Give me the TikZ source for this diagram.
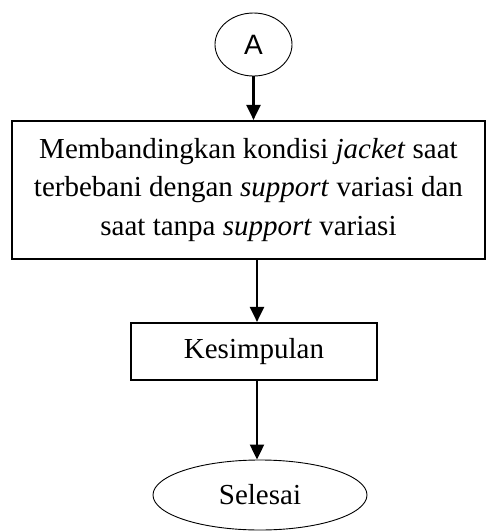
\documentclass[tikz,border=0pt]{standalone}
\usepackage{fontspec}
\setmainfont{Liberation Serif}
\newfontfamily\arialf{Liberation Sans}
\usetikzlibrary{arrows.meta,shapes.geometric}
\begin{document}
\begin{tikzpicture}[x=1pt,y=1pt,
  thinshape/.style={draw,ellipse,line width=0.9pt,inner sep=0pt},
  boxnode/.style={draw,rectangle,line width=2.2pt,inner sep=0pt,font=\fontsize{29}{38.5}\selectfont,align=center},
  arr/.style={line width=2.2pt,-{Triangle[width=14pt,length=15pt]}}]
\useasboundingbox (0,0) rectangle (486,-531);
\node[thinshape,minimum width=77pt,minimum height=63pt,font=\arialf\fontsize{28}{30}\selectfont] (A) at (253.5,-44.5) {A};
\node[boxnode,minimum width=473pt,minimum height=138pt] (b1) at (248.5,-190)
  {Membandingkan kondisi \textit{jacket} saat\\terbebani dengan \textit{support} variasi dan\\saat tanpa \textit{support} variasi};
\node[boxnode,minimum width=246pt,minimum height=57pt,font=\fontsize{29}{34}\selectfont] (b2) at (254,-351.5) {Kesimpulan};
\node[thinshape,minimum width=214pt,minimum height=70pt,font=\fontsize{29}{34}\selectfont] (end) at (260,-495) {Selesai};
\draw[arr] (A.south) -- (A.south |- b1.north);
\draw[arr] ([xshift=3pt]b2.north |- b1.south) -- ([xshift=3pt]b2.north);
\draw[arr] ([xshift=3pt]b2.south) -- ([xshift=3pt]b2.south |- end.north);
\end{tikzpicture}
\end{document}
